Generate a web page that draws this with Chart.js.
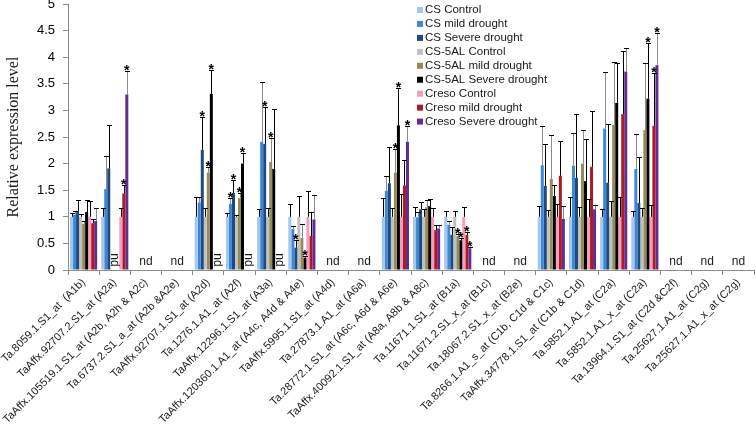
<!DOCTYPE html>
<html>
<head>
<meta charset="utf-8">
<script src="https://cdn.jsdelivr.net/npm/chart.js@4.4.1/dist/chart.umd.min.js"></script>
<style>
  html, body { margin: 0; padding: 0; background: #fff; }
  #chart { display: block; }
</style>
</head>
<body>
<canvas id="chart" width="756" height="429"></canvas>
<script>
const CATEGORIES = [
  'Ta.8059.1.S1_at  (A1b)', 'TaAffx.92707.2.S1_at (A2a)', 'TaAffx.105519.1.S1_at (A2b, A2h & A2c)',
  'Ta.6737.2.S1_a_at (A2b &A2e)', 'TaAffx.92707.1.S1_at (A2d)', 'Ta.1276.1.A1_at (A2f)',
  'TaAffx.12296.1.S1_at (A3a)', 'TaAffx.120360.1.A1_at (A4c, A4d & A4e)', 'TaAffx.5995.1.S1_at (A4d)',
  'Ta.27873.1.A1_at (A6a)', 'Ta.28772.1.S1_at (A6c, A6d & A6e)', 'TaAffx.40092.1.S1_at (A8a, A8b & A8c)',
  'Ta.11671.1.S1_at (B1a)', 'Ta.11671.2.S1_x_at (B1c)', 'Ta.18067.2.S1_x_at (B2e)',
  'Ta.8266.1.A1_s_at (C1b, C1d & C1c)', 'TaAffx.34778.1.S1_at (C1b & C1d)', 'Ta.5852.1.A1_at (C2a)',
  'Ta.5852.1.A1_x_at (C2a)', 'Ta.13964.1.S1_at (C2d &C2f)', 'Ta.25627.1.A1_at (C2g)',
  'Ta.25627.1.A1_x_at (C2g)'
];

const SERIES = [
  'CS Control', 'CS mild drought', 'CS Severe drought',
  'CS-5AL Control', 'CS-5AL mild drought', 'CS-5AL Severe drought',
  'Creso Control', 'Creso mild drought', 'Creso Severe drought'
];

const COLORS = ['#a3c8ec', '#3d87d8', '#1f4a7e', '#c0c0c0', '#958b58', '#000000', '#f59cc4', '#aa1c22', '#632c94'];
const ERR_COLORS = ['#000', '#8a8a8a', '#000', '#000', '#8a8a8a', '#000', '#000', '#000', '#8a8a8a'];

const n = null;
// mean relative expression (nd = null)
const CS_CONTROL    = [1.0, 1.0, n, n, 1.0, 1.0, 1.0, 1.0, n, n, 1.0, 1.0, 1.0, n, n, 1.0, 1.0, 1.0, 1.0, n, n, n];
const CS_MILD       = [1.04, 1.52, n, n, 1.27, 1.24, 2.41, 0.77, n, n, 1.49, 0.99, 0.85, n, n, 1.97, 1.96, 2.66, 1.9, n, n, n];
const CS_SEVERE     = [1.1, 1.91, n, n, 2.26, 1.45, 2.37, 0.42, n, n, 1.63, 1.14, 0.66, n, n, 1.58, 1.73, 1.64, 1.26, n, n, n];
const CS5AL_CONTROL = [1.0, n, n, n, 1.0, 1.0, 1.0, 1.0, n, n, 1.0, 1.0, 1.0, n, n, 1.0, 1.0, 1.0, 1.0, n, n, n];
const CS5AL_MILD    = [0.87, n, n, n, 1.83, 1.35, 2.03, 0.6, n, n, 1.83, 1.18, 0.64, n, n, 1.71, 2.0, 2.73, 2.63, n, n, n];
const CS5AL_SEVERE  = [1.09, n, n, n, 3.31, 2.0, 1.9, 0.23, n, n, 2.72, 1.2, 0.56, n, n, 1.39, 1.67, 3.14, 3.22, n, n, n];
const CRESO_CONTROL = [1.0, 1.0, n, n, n, n, n, 1.0, n, n, 1.0, 1.0, 1.0, n, n, 1.0, 1.0, 1.0, 1.0, n, n, n];
const CRESO_MILD    = [0.88, 1.44, n, n, n, n, n, 0.64, n, n, 1.59, 0.75, 0.66, n, n, 1.77, 1.94, 2.93, 2.71, n, n, n];
const CRESO_SEVERE  = [0.92, 3.3, n, n, n, n, n, 0.95, n, n, 2.41, 0.78, 0.41, n, n, 0.96, 1.14, 3.73, 3.85, n, n, n];

// upper error bar size
const CS_CONTROL_ERR    = [0.08, 0.16, n, n, 0.37, 0.08, 0.15, 0.24, n, n, 0.35, 0.18, 0.1, n, n, 0.21, 0.37, 0.14, 0.11, n, n, n];
const CS_MILD_ERR       = [0.06, 0.62, n, n, 0.1, 0.11, 1.12, 0.06, n, n, 0.28, 0.1, 0.08, n, n, 0.74, 0.61, 1.06, 0.66, n, n, n];
const CS_SEVERE_ERR     = [0.21, 0.82, n, n, 0.62, 0.24, 0.69, 0.15, n, n, 0.68, 0.14, 0.15, n, n, 0.79, 1.21, 1.1, 0.87, n, n, n];
const CS5AL_CONTROL_ERR = [0.06, n, n, n, 0.17, 0.04, 0.17, 0.4, n, n, 0.16, 0.15, 0.1, n, n, 0.12, 0.19, 0.29, 0.16, n, n, n];
const CS5AL_MILD_ERR    = [0.05, n, n, n, 0.11, 0.1, 0.45, 0.27, n, n, 0.44, 0.14, 0.04, n, n, 0.83, 0.64, 1.18, 1.27, n, n, n];
const CS5AL_SEVERE_ERR  = [0.22, n, n, n, 0.45, 0.2, 1.13, 0.03, n, n, 0.71, 0.14, 0.05, n, n, 0.2, 0.79, 0.76, 1.04, n, n, n];
const CRESO_CONTROL_ERR = [0.29, 0.17, n, n, n, n, n, 0.49, n, n, 0.43, 0.17, 0.18, n, n, 0.25, 0.34, 0.37, 0.22, n, n, n];
const CRESO_MILD_ERR    = [0.07, 0.16, n, n, n, n, n, 0.45, n, n, 0.48, 0.1, 0.06, n, n, 0.65, 1.04, 1.18, 1.0, n, n, n];
const CRESO_SEVERE_ERR  = [0.24, 0.44, n, n, n, n, n, 0.46, n, n, 0.3, 0.06, 0.02, n, n, 0.24, 0.08, 0.45, 0.61, n, n, n];

// significant differences: [category index, series index]
const STARS = [
  [1, 7], [1, 8],
  [4, 2], [4, 4], [4, 5],
  [5, 1], [5, 2], [5, 4], [5, 5],
  [6, 2], [6, 4],
  [7, 2], [7, 5],
  [10, 4], [10, 5], [10, 8],
  [12, 4], [12, 5], [12, 7], [12, 8],
  [18, 5], [18, 7], [18, 8]
];

const Y_TICKS = [0, 0.5, 1, 1.5, 2, 2.5, 3, 3.5, 4, 4.5, 5];

const VALUES = [CS_CONTROL, CS_MILD, CS_SEVERE, CS5AL_CONTROL, CS5AL_MILD, CS5AL_SEVERE, CRESO_CONTROL, CRESO_MILD, CRESO_SEVERE];
const ERRORS = [CS_CONTROL_ERR, CS_MILD_ERR, CS_SEVERE_ERR, CS5AL_CONTROL_ERR, CS5AL_MILD_ERR, CS5AL_SEVERE_ERR, CRESO_CONTROL_ERR, CRESO_MILD_ERR, CRESO_SEVERE_ERR];

const SANS = '"Liberation Sans", Arial, sans-serif';

const overlay = {
  id: 'overlay',
  afterDatasetsDraw(chart) {
    const { ctx, scales: { x, y } } = chart;
    ctx.save();
    // error bars
    VALUES.forEach((vals, i) => {
      const meta = chart.getDatasetMeta(i);
      vals.forEach((v, j) => {
        if (v == null || ERRORS[i][j] == null) return;
        const bx = Math.round(meta.data[j].x) + 0.5;
        const top = Math.round(y.getPixelForValue(v + ERRORS[i][j])) + 0.5;
        const base = y.getPixelForValue(v);
        ctx.strokeStyle = ERR_COLORS[i];
        ctx.lineWidth = 1;
        ctx.beginPath();
        ctx.moveTo(bx, base);
        ctx.lineTo(bx, top);
        ctx.stroke();
        ctx.strokeStyle = '#000';
        ctx.beginPath();
        ctx.moveTo(bx - 2.5, top);
        ctx.lineTo(bx + 2.5, top);
        ctx.stroke();
      });
    });
    // stars
    ctx.fillStyle = '#000';
    ctx.font = 'bold 14px ' + SANS;
    ctx.textAlign = 'center';
    ctx.textBaseline = 'alphabetic';
    STARS.forEach(([j, i]) => {
      const meta = chart.getDatasetMeta(i);
      const top = y.getPixelForValue(VALUES[i][j] + ERRORS[i][j]);
      ctx.fillText('*', meta.data[j].x, top + 4);
    });
    // nd labels
    ctx.font = '12px ' + SANS;
    ctx.fillStyle = '#1a1a1a';
    const y0 = y.getPixelForValue(0);
    CATEGORIES.forEach((c, j) => {
      const groups = [0, 1, 2].map(g => VALUES.slice(g * 3, g * 3 + 3).every(s => s[j] == null));
      if (groups.every(Boolean)) {
        ctx.textAlign = 'center';
        ctx.textBaseline = 'alphabetic';
        ctx.fillText('nd', x.getPixelForValue(j), y0 - 5);
        return;
      }
      groups.forEach((missing, g) => {
        if (!missing) return;
        const mx = chart.getDatasetMeta(g * 3 + 1).data[j].x;
        ctx.save();
        ctx.translate(mx, y0 - 10);
        ctx.rotate(Math.PI / 2);
        ctx.textAlign = 'center';
        ctx.textBaseline = 'middle';
        ctx.fillText('nd', 0, 0);
        ctx.restore();
      });
    });
    // legend
    ctx.font = '11.5px ' + SANS;
    ctx.textAlign = 'left';
    ctx.textBaseline = 'middle';
    SERIES.forEach((name, i) => {
      const ly = 10 + i * 13.95;
      ctx.fillStyle = COLORS[i];
      ctx.fillRect(417, ly - 3, 6, 6);
      ctx.fillStyle = '#1a1a1a';
      ctx.fillText(name, 425, ly);
    });
    ctx.restore();
  }
};

new Chart(document.getElementById('chart').getContext('2d'), {
  type: 'bar',
  data: {
    labels: CATEGORIES,
    datasets: SERIES.map((name, i) => ({
      label: name,
      data: VALUES[i],
      backgroundColor: COLORS[i],
      borderWidth: 0,
      categoryPercentage: 0.87,
      barPercentage: 1
    }))
  },
  options: {
    responsive: false,
    animation: false,
    layout: { padding: { top: 4, right: 2, left: 0, bottom: 0 } },
    plugins: { legend: { display: false }, tooltip: { enabled: false } },
    scales: {
      x: {
        grid: { drawOnChartArea: false, tickLength: 5, color: '#8c8c8c', offset: true },
        border: { color: '#8c8c8c' },
        ticks: {
          autoSkip: false, maxRotation: 45, minRotation: 45, padding: 1,
          color: '#1a1a1a', font: { family: SANS, size: 11 }
        },
        afterFit: s => { s.height = 159; s.paddingLeft = 0; s.paddingRight = 0; }
      },
      y: {
        min: 0, max: 5,
        afterBuildTicks: s => { s.ticks = Y_TICKS.map(v => ({ value: v })); },
        grid: { drawOnChartArea: false, tickLength: 5, color: '#8c8c8c' },
        border: { color: '#8c8c8c' },
        ticks: { padding: 8, color: '#000', font: { family: SANS, size: 13 }, callback: v => String(v) },
        title: {
          display: true, text: 'Relative expression level', color: '#1a1a1a',
          font: { family: '"Liberation Serif", "Times New Roman", serif', size: 16 }
        },
        afterFit: s => { s.width = 68; s.paddingTop = 0; s.paddingBottom = 0; }
      }
    }
  },
  plugins: [overlay]
});
</script>
</body>
</html>
